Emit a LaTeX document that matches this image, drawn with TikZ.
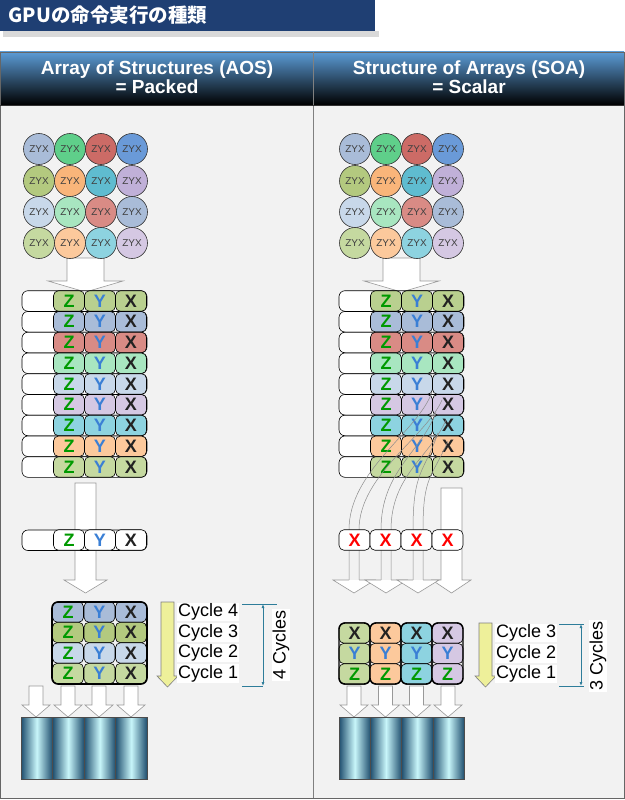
\documentclass[tikz,border=0pt]{standalone}
\usepackage{fontspec}
\setmainfont{Liberation Sans}
\newfontfamily\cjk{Noto Sans CJK JP}
\usetikzlibrary{arrows.meta}
\definecolor{cA}{HTML}{A9BCD8}\definecolor{cB}{HTML}{5FCF8A}\definecolor{cC}{HTML}{CC6B66}\definecolor{cD}{HTML}{6A9AD8}
\definecolor{cE}{HTML}{B3C97F}\definecolor{cF}{HTML}{F9B57A}\definecolor{cG}{HTML}{5FBCD0}\definecolor{cH}{HTML}{C0B0D8}
\definecolor{cI}{HTML}{C8D8EA}\definecolor{cJ}{HTML}{A8E6C0}\definecolor{cK}{HTML}{D98B85}
\definecolor{cL}{HTML}{C5D9A0}\definecolor{cM}{HTML}{FCC99C}\definecolor{cN}{HTML}{8DD3E0}\definecolor{cO}{HTML}{D5C8E3}
\definecolor{cP}{HTML}{B9D08F}
\definecolor{zcol}{HTML}{009900}\definecolor{ycol}{HTML}{3A7FD5}\definecolor{xcol}{HTML}{222222}
\definecolor{titleblue}{HTML}{1F3F73}\definecolor{hdrblue}{HTML}{5B9BD5}
\definecolor{panelbg}{HTML}{F2F2F2}\definecolor{teal}{HTML}{2E7D9A}
\definecolor{yel}{HTML}{EEF09A}\definecolor{cyld}{HTML}{1F4E6E}\definecolor{cyll}{HTML}{C8F6FA}
\pgfdeclarehorizontalshading{cyl}{100bp}{color(0bp)=(cyld); color(25bp)=(cyld); color(50bp)=(cyll); color(75bp)=(cyld); color(100bp)=(cyld)}
\tikzset{
  circ/.style={circle,draw=black!80,line width=0.6pt,minimum size=31pt,inner sep=0pt,
    font=\fontsize{10}{10}\selectfont,text=black!75},
  cell/.style={draw=black,rounded corners=5pt,minimum width=31pt,minimum height=20.5pt,inner sep=0pt,
    font=\bfseries\fontsize{18}{18}\selectfont,line width=0.6pt},
  frame/.style={draw=black,fill=white,rounded corners=6pt,line width=0.6pt},
  bigarrow/.style={draw=black!40,fill=white,line width=0.6pt},
  thinline/.style={draw=black!45,line width=0.5pt},
  yarrow/.style={draw=black!50,fill=yel,line width=0.6pt},
  brk/.style={draw=teal,line width=0.8pt},
  cyc/.style={fill=white,inner sep=1pt,font=\fontsize{18}{18}\selectfont,anchor=west},
  hdr/.style={text=white,font=\bfseries\fontsize{19}{19}\selectfont,align=center},
}
\newcommand{\Zt}{\textcolor{zcol}{Z}}
\newcommand{\Yt}{\textcolor{ycol}{Y}}
\newcommand{\Xt}{\textcolor{xcol}{X}}
\begin{document}
\begin{tikzpicture}[x=1pt,y=-1pt]
\useasboundingbox (0,0) rectangle (624,800);
% title
\fill[black!15] (3,31) rectangle (379,37);
\fill[titleblue] (0,0) rectangle (375,31);
\node[anchor=west,text=white,font=\cjk\bfseries\fontsize{19.5}{20}\selectfont] (title) at (5,15) {GPUの命令実行の種類};
% panel
\fill[panelbg] (0,52) rectangle (624,798);
\shade[top color=hdrblue,bottom color=black] (0,52) rectangle (624,105);
\draw[black!60,line width=0.8pt] (0,52) rectangle (624,798);
\draw[black!50,line width=0.8pt] (313,52) -- (313,798);
\draw[black!80,line width=0.8pt] (0,105) -- (624,105);
\node[hdr] (hl) at (157,77) {Array of Structures (AOS)\\= Packed};
\node[hdr] (hr) at (469,77) {Structure of Arrays (SOA)\\= Scalar};
% ---- wide arrows from circles
\foreach \o in {0,316}{
  \path[bigarrow] (67+\o,258) -- (104+\o,258) -- (104+\o,281) -- (123+\o,281) -- (85.5+\o,292) -- (48+\o,281) -- (67+\o,281) -- cycle;
}
% circles
\foreach \o/\s in {0/L,316/R}{
  \foreach \r/\y/\ca/\cb/\cc/\cd in {1/149/cA/cB/cC/cD,2/181/cE/cF/cG/cH,3/212/cI/cJ/cK/cA,4/243/cL/cM/cN/cO}{
    \node[circ,fill=\ca] (c\s\r a) at (39+\o,\y) {ZYX};
    \node[circ,fill=\cb] (c\s\r b) at (70+\o,\y) {ZYX};
    \node[circ,fill=\cc] (c\s\r c) at (101+\o,\y) {ZYX};
    \node[circ,fill=\cd] (c\s\r d) at (132+\o,\y) {ZYX};
  }
}
% ---- left long arrow
\path[bigarrow] (75,483) -- (96,483) -- (96,580) -- (107,580) -- (85.5,593) -- (64,580) -- (75,580) -- cycle;
% ---- rows
\foreach \o/\s in {0/L,317/R}{
  \foreach \i/\c in {1/cP,2/cA,3/cK,4/cJ,5/cI,6/cO,7/cN,8/cM,9/cL}{
    \pgfmathsetmacro\yy{301+(\i-1)*20.75}
    \draw[frame] (22+\o,\yy-10.3) rectangle (147+\o,\yy+10.3);
    \node[cell,fill=\c] (z\s\i) at (69+\o,\yy) {\Zt};
    \node[cell,fill=\c] (y\s\i) at (100+\o,\yy) {\Yt};
    \node[cell,fill=\c] (x\s\i) at (131+\o,\yy) {\Xt};
  }
}
% ---- right curved arrows
\foreach \cx/\ex/\ey in {354/438/392,386/442/412,418/444/433}{
  \draw[thinline] (\cx-5,580) -- (\cx-5,530) .. controls (\cx-5,470) and (\ex-20,\ey+40) .. (\ex-6,\ey);
  \draw[thinline] (\cx+5,580) -- (\cx+5,530) .. controls (\cx+5,475) and (\ex-12,\ey+45) .. (\ex+4,\ey+8);
}
\path[bigarrow] (441,488) -- (462,488) -- (462,580) -- (471,580) -- (451.5,593) -- (432,580) -- (441,580) -- cycle;
\foreach \cx in {354,386,418}{
  \path[bigarrow] (\cx-5,580) -- (\cx-21,580) -- (\cx,593) -- (\cx+21,580) -- (\cx+5,580);
}
% ---- register rows
\draw[frame] (22,530) rectangle (147,550.5);
\node[cell,fill=white] (rz) at (69,540) {\Zt};
\node[cell,fill=white] (ry) at (100,540) {\Yt};
\node[cell,fill=white] (rx) at (131,540) {\Xt};
\foreach \k/\x in {1/354.5,2/385.5,3/416.5,4/447.5}{
  \node[cell,fill=white,text=red] (rr\k) at (\x,540) {X};
}
% ---- left bottom block
\foreach \i/\y/\c in {4/612/cA,3/632.5/cE,2/653/cI,1/673.5/cL}{
  \node[cell,fill=\c] (bz\i) at (68,\y) {\Zt};
  \node[cell,fill=\c] (by\i) at (99.5,\y) {\Yt};
  \node[cell,fill=\c] (bx\i) at (131,\y) {\Xt};
}
\draw[line width=1.6pt,rounded corners=6pt] (52,602) rectangle (147,684);
\path[yarrow] (161,602) -- (174,602) -- (174,676) -- (178,676) -- (167.5,687) -- (157,676) -- (161,676) -- cycle;
\node[cyc] (l4) at (177,612) {Cycle 4};
\node[cyc] (l3) at (177,632.5) {Cycle 3};
\node[cyc] (l2) at (177,653) {Cycle 2};
\node[cyc] (l1) at (177,673.5) {Cycle 1};
\coordinate (lbt) at (263,604); \coordinate (lbb) at (263,686);
\draw[brk] (242,604) -- (277,604); \draw[brk] (242,686) -- (263,686);
\draw[brk,{Latex[length=4pt,width=3pt]}-{Latex[length=4pt,width=3pt]}] (lbt) -- (lbb);
\node[cyc,anchor=center,rotate=90] (lcy) at (281,645) {4 Cycles};
% ---- right bottom block
\foreach \k/\x/\c in {1/354.5/cL,2/385.5/cM,3/416.5/cN,4/447.5/cO}{
  \node[cell,fill=\c] (sx\k) at (\x,633) {\Xt};
  \node[cell,fill=\c] (sy\k) at (\x,653.5) {\Yt};
  \node[cell,fill=\c] (sz\k) at (\x,674) {\Zt};
  \draw[line width=1.4pt,rounded corners=6pt] (\x-15.5,623) rectangle (\x+15.5,684);
}
\path[yarrow] (479,623) -- (492,623) -- (492,676) -- (496,676) -- (485.5,687) -- (475,676) -- (479,676) -- cycle;
\node[cyc] (r3) at (495,633) {Cycle 3};
\node[cyc] (r2) at (495,653.5) {Cycle 2};
\node[cyc] (r1) at (495,674) {Cycle 1};
\coordinate (rbt) at (581,624); \coordinate (rbb) at (581,686);
\draw[brk] (559,624) -- (584,624); \draw[brk] (559,686) -- (584,686);
\draw[brk,{Latex[length=4pt,width=3pt]}-{Latex[length=4pt,width=3pt]}] (rbt) -- (rbb);
\node[cyc,anchor=center,rotate=90] (rcy) at (598,656) {3 Cycles};
% ---- arrows to cylinders
\foreach \cx in {36,68,99,131,354,385.5,416.5,448}{
  \path[bigarrow] (\cx-7,686) -- (\cx+7,686) -- (\cx+7,705) -- (\cx+14,705) -- (\cx,717) -- (\cx-14,705) -- (\cx-7,705) -- cycle;
}
% ---- cylinders
\foreach \x in {21,52.5,84,115.5,339,370.25,401.5,432.75}{
  \shade[shading=cyl,draw=black!70] (\x,717) rectangle (\x+31.5,779);
}
\end{tikzpicture}
\end{document}
